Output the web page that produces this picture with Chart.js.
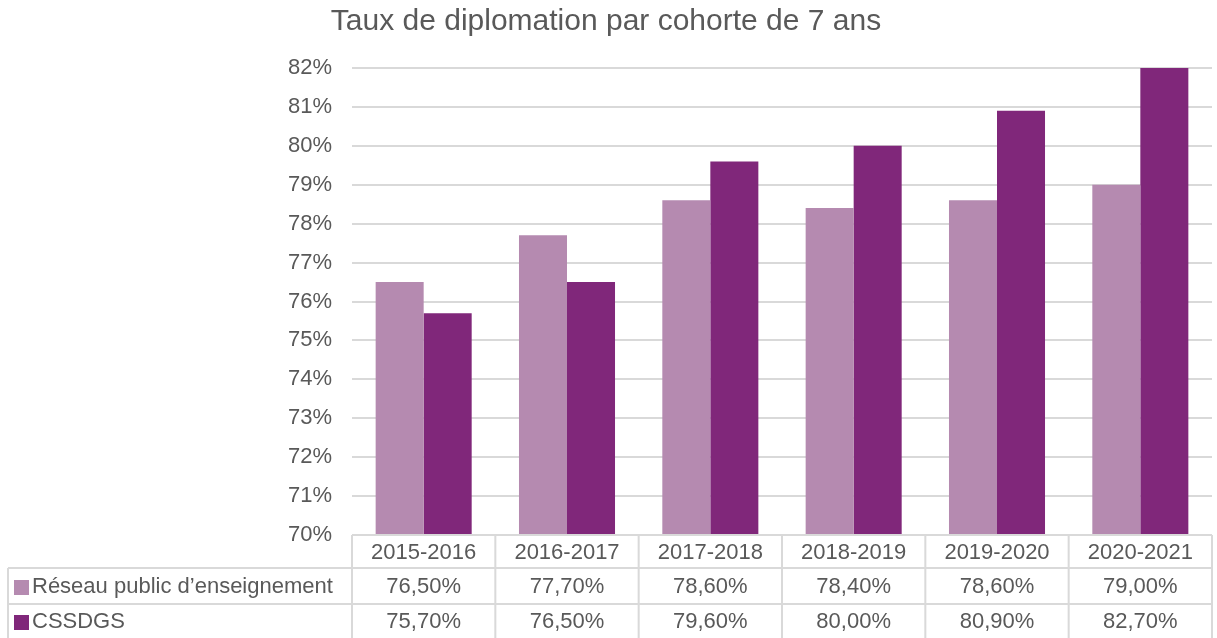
<!DOCTYPE html>
<html>
<head>
<meta charset="utf-8">
<script src="https://cdn.jsdelivr.net/npm/chart.js@4"></script>
<style>
html,body{margin:0;padding:0;background:#fff;}
#wrap{width:1217px;height:638px;}
</style>
</head>
<body>
<div id="wrap"><canvas id="c" width="1217" height="638"></canvas></div>
<script>
const categories = ["2015-2016","2016-2017","2017-2018","2018-2019","2019-2020","2020-2021"];
const reseauValues = [76.5, 77.7, 78.6, 78.4, 78.6, 79.0];
const cssdgsValues = [75.7, 76.5, 79.6, 80.0, 80.9, 82.7];
const seriesNames = ["Réseau public d’enseignement", "CSSDGS"];
const yTicks = [70,71,72,73,74,75,76,77,78,79,80,81,82];
const titleText = "Taux de diplomation par cohorte de 7 ans";

const FONT = "'Liberation Sans', Arial, sans-serif";
const TXT = "#595959";
const GRID = "#d9d9d9";
const COLORS = ["#B58AB0", "#80277A"];

const fmt = v => v.toFixed(2).replace('.', ',') + '%';

const tablePlugin = {
  id: 'dataTable',
  afterDraw(chart) {
    const ctx = chart.ctx;
    const x = chart.scales.x;
    const a = chart.chartArea;
    const left = a.left, right = a.right;
    const n = categories.length;
    const colW = (right - left) / n;
    const y0 = a.bottom, y1 = y0 + 33, y2 = y1 + 36, y3 = 640;
    const tableLeft = 8;
    ctx.save();
    ctx.strokeStyle = GRID;
    ctx.lineWidth = 2;
    ctx.beginPath();
    ctx.moveTo(left, y0); ctx.lineTo(right, y0);
    ctx.moveTo(tableLeft, y1); ctx.lineTo(right, y1);
    ctx.moveTo(tableLeft, y2); ctx.lineTo(right, y2);
    for (let i = 0; i <= n; i++) {
      const px = left + i * colW;
      ctx.moveTo(px, y0); ctx.lineTo(px, y3);
    }
    ctx.moveTo(tableLeft, y1); ctx.lineTo(tableLeft, y3);
    ctx.stroke();

    ctx.fillStyle = TXT;
    ctx.font = "22px " + FONT;
    ctx.textAlign = 'center';
    ctx.textBaseline = 'middle';
    categories.forEach((c, i) => {
      const cx = x.getPixelForValue(i);
      ctx.fillText(c, cx, (y0 + y1) / 2 + 1);
    });
    const rows = [[reseauValues, y1, y2], [cssdgsValues, y2, 638]];
    rows.forEach(([vals, ya, yb], r) => {
      const cy = (ya + yb) / 2 + 1;
      vals.forEach((v, i) => {
        const cx = x.getPixelForValue(i);
        ctx.fillStyle = TXT;
        ctx.textAlign = 'center';
        ctx.fillText(fmt(v), cx, cy);
      });
      ctx.fillStyle = COLORS[r];
      ctx.fillRect(14, cy - 7, 15, 15);
      ctx.fillStyle = TXT;
      ctx.textAlign = 'left';
      ctx.fillText(seriesNames[r], 32, cy);
    });
    ctx.restore();
  }
};

new Chart(document.getElementById('c'), {
  type: 'bar',
  data: {
    labels: categories,
    datasets: [
      { label: seriesNames[0], data: reseauValues, backgroundColor: COLORS[0], barPercentage: 1, categoryPercentage: 0.67 },
      { label: seriesNames[1], data: cssdgsValues, backgroundColor: COLORS[1], barPercentage: 1, categoryPercentage: 0.67 }
    ]
  },
  options: {
    responsive: false,
    animation: false,
    devicePixelRatio: 1,
    layout: { padding: { left: 0, right: 5, top: 0, bottom: 103 } },
    plugins: {
      legend: { display: false },
      tooltip: { enabled: false },
      title: {
        display: true,
        text: titleText,
        color: TXT,
        font: { family: FONT, size: 30, weight: 'normal' },
        padding: { top: 4, bottom: 28 }
      }
    },
    scales: {
      x: { display: false, grid: { display: false } },
      y: {
        min: 70, max: 82,
        afterBuildTicks: s => { s.ticks = yTicks.map(v => ({ value: v })); },
        afterFit: s => { s.width = 352; },
        border: { display: false },
        grid: { color: GRID, lineWidth: 2, drawTicks: false },
        ticks: {
          color: TXT,
          padding: 20,
          font: { family: FONT, size: 22 },
          callback: v => v + '%'
        }
      }
    }
  },
  plugins: [tablePlugin]
});
</script>
</body>
</html>
